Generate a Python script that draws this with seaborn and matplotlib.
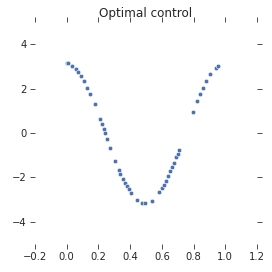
import matplotlib
matplotlib.use("Agg")
import matplotlib.pyplot as plt
import seaborn as sns
import pandas as pd

# стиль: тики без рамки
sns.set_style("ticks")
plt.rcParams["font.family"] = ["DejaVu Sans"]

# точки
t = [0.0, 0.01, 0.035, 0.06, 0.073, 0.092, 0.111, 0.13, 0.149, 0.176,
     0.212, 0.223, 0.233, 0.243, 0.256, 0.275, 0.306, 0.332, 0.338, 0.357,
     0.37, 0.382, 0.395, 0.408, 0.445, 0.477, 0.496, 0.54, 0.584, 0.603,
     0.616, 0.628, 0.641, 0.653, 0.666, 0.679, 0.691, 0.704, 0.71,
     0.798, 0.823, 0.842, 0.861, 0.88, 0.905, 0.94, 0.956]
u = [3.14, 3.14, 3.02, 2.87, 2.75, 2.55, 2.34, 2.01, 1.74, 1.29,
     0.63, 0.41, 0.18, -0.01, -0.28, -0.69, -1.26, -1.67, -1.83, -2.09,
     -2.27, -2.40, -2.54, -2.72, -3.03, -3.17, -3.17, -3.08, -2.67, -2.49,
     -2.36, -2.18, -1.95, -1.73, -1.52, -1.37, -1.07, -0.93, -0.78,
     0.93, 1.44, 1.74, 2.01, 2.33, 2.66, 2.93, 3.02]

df = pd.DataFrame({"t": t, "u": u})

fig = plt.figure(figsize=(272 / 72, 272 / 72), dpi=72)
ax = fig.add_axes([35 / 272, 28 / 272, 222 / 272, 222 / 272])

sns.scatterplot(data=df, x="t", y="u", ax=ax, s=20, color="#4c72b0",
                edgecolor="white", linewidth=0.5)

ax.set_xlim(-0.2, 1.2)
ax.set_ylim(-5, 5)
ax.set_xticks([-0.2, 0.0, 0.2, 0.4, 0.6, 0.8, 1.0, 1.2])
ax.set_yticks([-4, -2, 0, 2, 4])
ax.set_xlabel("")
ax.set_ylabel("")
ax.tick_params(top=True, right=True, labelsize=10, length=5, color="#262626")
for sp in ax.spines.values():
    sp.set_visible(False)
ax.set_title("Optimal control", fontsize=12, color="#262626", pad=5)

fig.savefig("out.png", dpi=72)
